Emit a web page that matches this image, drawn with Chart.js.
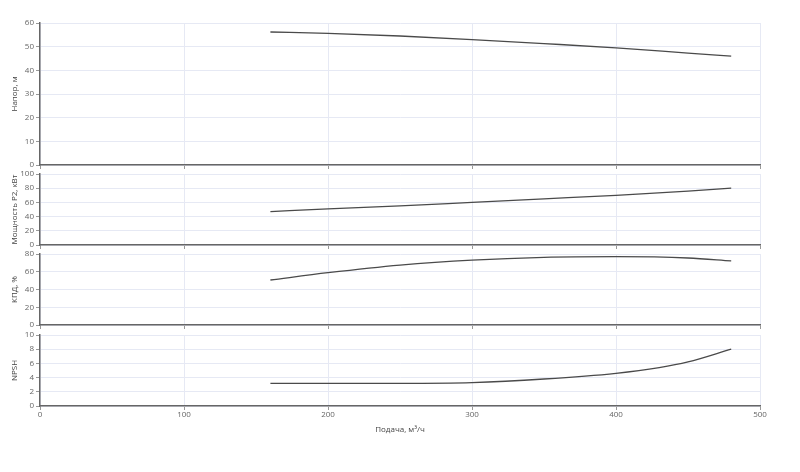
<!DOCTYPE html>
<html>
<head>
<meta charset="utf-8">
<script src="https://cdn.jsdelivr.net/npm/chart.js@4"></script>
<style>
  body { margin: 0; background: #fff; }
  #wrap { position: relative; width: 800px; height: 472px; overflow: hidden; }
  #wrap canvas { position: absolute; left: 0; }
</style>
</head>
<body>
<div id="wrap">
  <canvas id="headChart"></canvas>
  <canvas id="powerChart"></canvas>
  <canvas id="effChart"></canvas>
  <canvas id="npshChart"></canvas>
</div>
<script>
// flow, m3/h
const flow = [160, 200, 250, 300, 350, 400, 450, 480];
const head = [56.2, 55.6, 54.5, 53.0, 51.3, 49.5, 47.3, 46.0];
const power = [47, 51, 55, 60, 65, 70, 76, 80];
const efficiency = [50.7, 58.9, 67.5, 73.2, 76.3, 77.0, 75.5, 72.2];
const npshFlow = [160, 200, 250, 300, 350, 400, 430, 450, 480];
const npsh = [3.2, 3.2, 3.2, 3.3, 3.8, 4.6, 5.4, 6.2, 8.0];

const xTicks = [0, 100, 200, 300, 400, 500];

const gridColor = '#e6e9f4';
const axisColor = '#666';
const font = { family: 'Open Sans', size: 8 };

// each panel: plot area from areaTop to areaBottom (page px)
function makeChart(id, areaTop, areaBottom, xs, ys, opts) {
    const padTop = 20;
    const canvasTop = areaTop - padTop;
    const h = areaBottom - canvasTop + opts.xHeight;
    const cv = document.getElementById(id);
    cv.style.top = canvasTop + 'px';
    cv.style.width = '800px';
    cv.style.height = h + 'px';
    cv.width = 800; cv.height = h;
    return new Chart(cv.getContext('2d'), {
        type: 'line',
        data: {
            datasets: [{
                data: xs.map((x, i) => ({ x: x, y: ys[i] })),
                borderColor: '#4a4a4a',
                borderWidth: 1.3,
                pointRadius: 0,
                cubicInterpolationMode: 'monotone',
                fill: false
            }]
        },
        options: {
            responsive: false,
            animation: false,
            layout: { padding: { top: padTop, right: 40, left: 0, bottom: 0 } },
            scales: {
                x: {
                    type: 'linear',
                    min: 0,
                    max: 500,
                    afterBuildTicks: (s) => { s.ticks = xTicks.map(v => ({ value: v })); },
                    afterFit: (s) => { s.height = opts.xHeight; },
                    grid: { color: gridColor, tickColor: '#999', tickLength: 4 },
                    border: { color: axisColor, width: 1.5 },
                    ticks: {
                        display: opts.showX,
                        color: '#666',
                        font: font,
                        padding: 0,
                        maxRotation: 0
                    },
                    title: {
                        display: opts.showX,
                        text: 'Подача, м³/ч',
                        color: '#444',
                        font: font,
                        padding: { top: 4, bottom: 4 }
                    }
                },
                y: {
                    min: 0,
                    max: opts.yMax,
                    afterBuildTicks: (s) => { s.ticks = opts.yTicks.map(v => ({ value: v })); },
                    afterFit: (s) => { s.width = 40; },
                    grid: { color: gridColor, tickColor: '#999', tickLength: 4 },
                    border: { color: axisColor, width: 1.5 },
                    ticks: { color: '#666', font: font, padding: 2, autoSkip: false },
                    title: {
                        display: true,
                        text: opts.title,
                        color: '#444',
                        font: font,
                        padding: { top: 10, bottom: 0 }
                    }
                }
            },
            plugins: {
                legend: { display: false },
                tooltip: { enabled: false }
            }
        }
    });
}

makeChart('headChart', 23, 165, flow, head, {
    xHeight: 20, showX: false, yMax: 60,
    yTicks: [0, 10, 20, 30, 40, 50, 60], title: 'Напор, м'
});
makeChart('powerChart', 174, 245, flow, power, {
    xHeight: 20, showX: false, yMax: 100,
    yTicks: [0, 20, 40, 60, 80, 100], title: 'Мощность P2, кВт'
});
makeChart('effChart', 254, 325, flow, efficiency, {
    xHeight: 20, showX: false, yMax: 80,
    yTicks: [0, 20, 40, 60, 80], title: 'КПД, %'
});
makeChart('npshChart', 335, 406, npshFlow, npsh, {
    xHeight: 33, showX: true, yMax: 10,
    yTicks: [0, 2, 4, 6, 8, 10], title: 'NPSH'
});
</script>
</body>
</html>
